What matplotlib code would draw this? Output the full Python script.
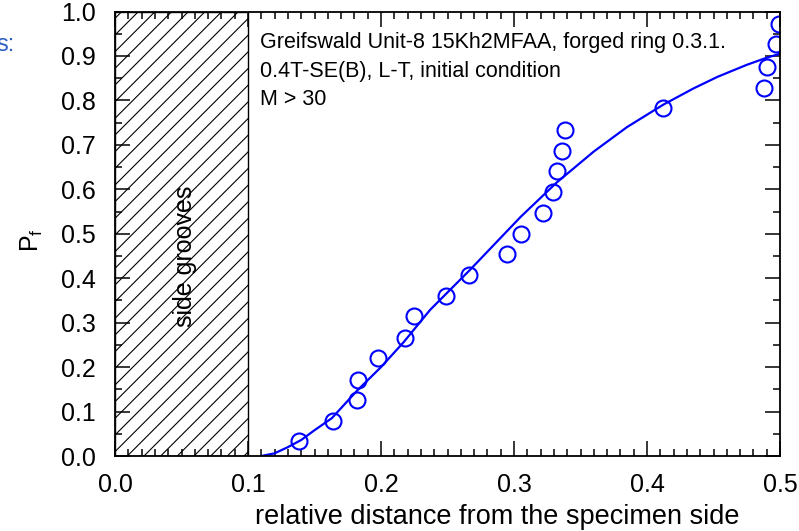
import matplotlib
matplotlib.use("Agg")
import matplotlib.pyplot as plt
from matplotlib.ticker import MultipleLocator

plt.rcParams['font.family'] = ['Liberation Sans', 'DejaVu Sans']
plt.rcParams['mathtext.fontset'] = 'custom'
plt.rcParams['mathtext.rm'] = 'Liberation Sans'
plt.rcParams['hatch.linewidth'] = 0.8

# Measured failure probability vs. relative crack-initiation distance
dist = [0.138, 0.164, 0.182, 0.183, 0.198, 0.218, 0.225, 0.249, 0.266, 0.295,
        0.305, 0.322, 0.329, 0.332, 0.336, 0.338, 0.412, 0.488, 0.490, 0.497, 0.499]
pf = [0.034, 0.079, 0.126, 0.171, 0.221, 0.266, 0.315, 0.360, 0.408, 0.455,
      0.500, 0.547, 0.595, 0.642, 0.687, 0.734, 0.784, 0.829, 0.876, 0.926, 0.971]

# Fitted distribution curve
fit_x = [0.110, 0.120, 0.130, 0.140, 0.150, 0.163, 0.182, 0.200, 0.217, 0.237, 0.267,
         0.305, 0.332, 0.360, 0.385, 0.412, 0.435, 0.453, 0.475, 0.490, 0.500]
fit_y = [0.000, 0.006, 0.020, 0.036, 0.058, 0.085, 0.147, 0.200, 0.256, 0.329, 0.419,
         0.538, 0.615, 0.685, 0.740, 0.790, 0.827, 0.853, 0.880, 0.896, 0.905]

groove_width = 0.1

fig = plt.figure(figsize=(7.99, 5.31), dpi=100)
ax = fig.add_axes([115 / 799, 1 - 456 / 531, 665 / 799, 444.5 / 531])

ax.axvspan(0, groove_width, facecolor='white', edgecolor='black', hatch='//',
           linewidth=1.0, zorder=1)
ax.text(0.053, 0.45, 'side grooves', rotation=90, fontsize=18,
        ha='center', va='center', zorder=2)

ax.plot(fit_x, fit_y, color='#0000ff', linewidth=1.6, zorder=3)
ax.plot(dist, pf, linestyle='none', marker='o', markersize=11.5,
        markerfacecolor='none', markeredgecolor='#0000ff', markeredgewidth=1.5,
        zorder=4)

ax.text(0.109, 0.953,
        'Greifswald Unit-8 15Kh2MFAA, forged ring 0.3.1.\n'
        '0.4T-SE(B), L-T, initial condition\n'
        'M > 30',
        fontsize=15.5, ha='left', va='top', linespacing=1.45, zorder=5)

ax.set_xlim(0.0, 0.5)
ax.set_ylim(0.0, 1.0)
ax.xaxis.set_major_locator(MultipleLocator(0.1))
ax.xaxis.set_minor_locator(MultipleLocator(0.01))
ax.yaxis.set_major_locator(MultipleLocator(0.1))
ax.yaxis.set_minor_locator(MultipleLocator(0.05))
ax.xaxis.set_major_formatter(plt.FormatStrFormatter('%.1f'))
ax.yaxis.set_major_formatter(plt.FormatStrFormatter('%.1f'))

ax.tick_params(which='both', direction='in', top=True, right=True, width=1.1)
ax.tick_params(which='major', length=11)
ax.tick_params(which='minor', length=5)
ax.tick_params(axis='x', which='major', labelsize=18, pad=12)
ax.tick_params(axis='y', which='major', labelsize=18, pad=14)
for sp in ax.spines.values():
    sp.set_linewidth(1.3)
    sp.set_zorder(6)

ax.set_xlabel('relative distance from the specimen side', fontsize=19.5)
ax.xaxis.set_label_coords(0.575, -0.138, transform=ax.transAxes)
ax.xaxis.label.set_va('center')
ax.set_ylabel(r'P$_\mathregular{f}$', fontsize=18)
ax.yaxis.set_label_coords(-0.106, 0.486, transform=ax.transAxes)

fig.text(-0.004, 0.915, 's:', color='#2b5fc4', fontsize=17, ha='left', va='center')

fig.savefig('out.png', dpi=100)
